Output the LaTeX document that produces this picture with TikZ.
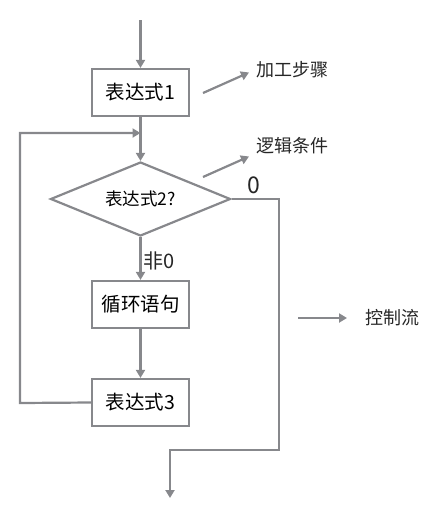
\documentclass[tikz,border=0pt]{standalone}
\usepackage{fontspec}
\setmainfont{Noto Sans CJK SC}
\usetikzlibrary{arrows.meta,shapes.geometric}
\definecolor{ln}{RGB}{135,136,140}
\begin{document}
\begin{tikzpicture}[x=1pt,y=-1pt,
  line/.style={draw=ln,line width=2.2pt},
  arr/.style={line,-{Triangle[width=9pt,length=8pt]}},
  procbox/.style={draw=ln,line width=2.2pt,minimum width=97pt,minimum height=47pt,inner sep=0pt,font=\fontsize{19.5}{22}\selectfont},
  decide/.style={diamond,aspect=2.43,draw=ln,line width=2.2pt,minimum width=180pt,minimum height=74pt,inner sep=0pt,font=\fontsize{17.5}{20}\selectfont},
  lbl/.style={inner sep=0pt,font=\fontsize{18}{21}\selectfont,text=black!85}
]
\useasboundingbox (0,0) rectangle (434,528);
\node[procbox] (b1) at (140.5,92.5) {表达式1};
\node[decide] (d) at (140.5,199) {表达式2?};
\node[procbox] (b2) at (140.5,304.5) {循环语句};
\node[procbox] (b3) at (140.5,402.5) {表达式3};
\coordinate (start) at (140.5,20);
\coordinate (lp1) at (20,403);
\coordinate (lp2) at (20,133);
\coordinate (lp3) at (140.5,133);
\coordinate (r1) at (279,199);
\coordinate (r2) at (279,450);
\coordinate (r3) at (170,450);
\coordinate (endp) at (170,498);
\draw[arr] (start) -- (b1.north);
\draw[arr] (b1.south) -- (d.north);
\draw[arr] (d.south) -- (b2.north);
\draw[arr] (b2.south) -- (b3.north);
\draw[arr] (b3.west) -- (lp1) -- (lp2) -- (lp3);
\draw[arr] (d.east) -- (r1) -- (r2) -- (r3) -- (endp);
\node[lbl,font=\fontsize{23}{26}\selectfont] (zero) at (254,185.5) {0};
\node[lbl,font=\fontsize{20}{23}\selectfont,anchor=west] (nz) at (143,261) {非0};
% legend
\coordinate (a1s) at (203,93);
\coordinate (a1e) at (249,72.5);
\coordinate (a2s) at (203,177);
\coordinate (a2e) at (249,156.5);
\coordinate (a3s) at (298,318);
\coordinate (a3e) at (347,318);
\node[lbl,anchor=west] (g1) at (256,70) {加工步骤};
\node[lbl,anchor=west] (g2) at (256,146) {逻辑条件};
\node[lbl,anchor=west] (g3) at (365,318) {控制流};
\draw[arr] (a1s) -- (a1e);
\draw[arr] (a2s) -- (a2e);
\draw[arr] (a3s) -- (a3e);
\end{tikzpicture}
\end{document}
